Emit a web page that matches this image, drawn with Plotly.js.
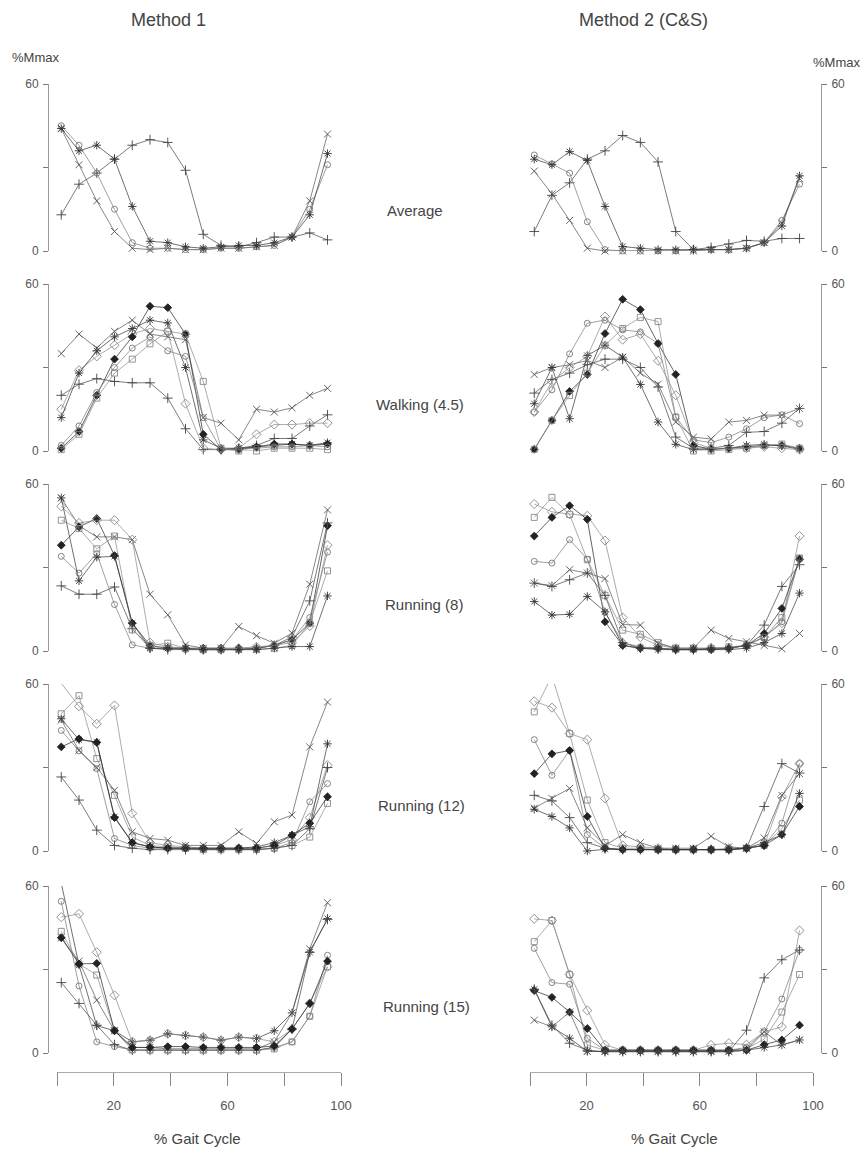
<!DOCTYPE html>
<html><head><meta charset="utf-8">
<script src="https://cdn.plot.ly/plotly-3.0.1.min.js"></script>
<style>html,body{margin:0;padding:0;background:#fff;}#chart{width:862px;height:1150px;}</style>
</head><body><div id="chart"></div>
<script>
// x positions (% gait cycle) of the 16 samples
const gait = [1.5, 7.75, 14, 20.25, 26.5, 32.75, 39, 45.25, 51.5, 57.75, 64, 70.25, 76.5, 82.75, 89, 95.25];
const yTickVals = [0, 30, 60];
const yTickText = ['0', '', '60'];
const xTickVals = [0, 20, 40, 60, 80, 100];
const xTickText = ['', '20', '', '60', '', '100'];
const rowLabels = ['Average', 'Walking (4.5)', 'Running (8)', 'Running (12)', 'Running (15)'];
const colTitles = ['Method 1', 'Method 2 (C&S)'];

// Average - Method 1
const avgL_plus = [13, 24, 28, 33, 38, 40, 39, 29, 6, 2, 1.5, 3, 5, 5, 6.5, 4];
const avgL_x    = [44, 31, 18, 7, 1, 0.5, 1, 0.5, 0.5, 1, 1, 1.5, 2, 5, 18, 42];
const avgL_circ = [45, 38, 28, 15, 3, 1, 1, 0.5, 0.5, 1, 1, 1.5, 2, 5, 15, 31];
const avgL_ast  = [44, 36, 38, 33, 16, 3.5, 3, 1.5, 1, 1.5, 2, 2, 3, 5, 13, 35];
// Average - Method 2
const avgR_plus = [7, 20, 24.5, 33, 36, 41.5, 39, 32, 7, 0.5, 1.3, 2.5, 3.8, 3.5, 4.5, 4.5];
const avgR_circ = [34.5, 31.3, 28, 10.5, 0.5, 0, 0, 0, 0, 0.5, 0.5, 0.5, 1, 3, 11, 24];
const avgR_ast  = [33, 31, 35.7, 32.5, 16, 1.6, 1, 0.5, 0.5, 0.5, 0.5, 0.5, 1, 3, 9, 27];
const avgR_x    = [28.7, 20.5, 11, 1, 0, 0, 0, 0, 0, 0, 0.5, 0.5, 1, 3, 10, 26];

// Walking (4.5) - Method 1
const wL_x    = [35, 42, 37, 43, 47, 42, 41, 40, 12, 10, 4, 15, 14, 15.5, 20, 22.5];
const wL_plus = [20, 24, 26, 25, 24.5, 24.5, 19, 8, 0.5, 0.5, 1, 2, 4.5, 4.5, 9, 13];
const wL_dia  = [15, 29, 34, 38, 42, 44, 43, 17, 1, 0.5, 1, 6, 9.5, 9.5, 10, 10];
const wL_ast  = [12, 28, 36, 41, 44, 47, 46, 30, 4, 1, 1, 1.5, 2, 2.5, 2, 3];
const wL_fill = [1, 7, 20, 33, 41, 52, 51.5, 42, 6, 0.5, 0.5, 1.5, 2.5, 2.5, 2, 2.5];
const wL_sq   = [0.5, 6, 19, 28, 33, 38.5, 43, 42, 25, 1, 0, 0, 1, 1, 1, 0.5];
const wL_circ = [2, 9, 21, 30, 37, 41, 36, 34, 12, 0.5, 0.5, 1, 1.5, 1.5, 2, 1.5];
// Walking (4.5) - Method 2
const wR_x    = [27.5, 30, 31, 32.5, 30, 33.7, 28, 24, 10.4, 5, 4.3, 10.4, 11, 12.9, 12.9, 15.3];
const wR_plus = [20.8, 25.7, 28, 31, 33, 33, 30, 23, 5, 1, 1, 2, 6.7, 7, 10, 15.3];
const wR_ast  = [17, 30, 11.6, 34.3, 38, 33.7, 23.9, 10.4, 2.4, 0.5, 0.6, 1, 2, 2.4, 1.8, 0.6];
const wR_circ = [14, 22, 34.9, 45.9, 47, 43.5, 42.8, 38.6, 12.2, 4, 3, 5, 8, 12, 13, 9.8];
const wR_fill = [0.6, 11, 21.4, 27.5, 42.2, 54.5, 50.8, 38.6, 27.5, 2, 0.6, 1, 1.5, 2, 2, 1];
const wR_sq   = [0.6, 11, 20, 28, 38, 44, 48, 46.5, 12.2, 0, 0, 0.5, 1, 2, 2.5, 1];
const wR_dia  = [14, 25, 30, 34, 48.3, 40, 42, 32.4, 20, 3, 1, 1, 1, 1.5, 1, 0.5];

// Running (8) - Method 1
const r8L_x    = [55, 45, 41, 41, 40, 20.4, 13, 2.2, 1, 1, 8.8, 5.5, 2.8, 6.4, 24, 50.7];
const r8L_fill = [38, 44.6, 47.6, 34.3, 10, 2, 1, 1, 1, 1, 1, 1, 2, 4, 10, 45];
const r8L_circ = [34, 28, 35, 16.7, 2.2, 1, 1, 0.5, 0.5, 0.5, 0.5, 1, 2, 4, 12, 35.5];
const r8L_plus = [23.4, 20.4, 20.4, 23, 8, 1, 0.5, 0.5, 0.5, 0.5, 0.5, 1, 2, 5, 18, 46];
const r8L_dia  = [52, 46, 47, 47, 40, 3, 1.5, 1, 0.5, 0.5, 1, 1.5, 2, 3, 9, 38];
const r8L_sq   = [47, 44, 36.7, 41.3, 7.6, 2, 2.8, 1, 0.5, 0.5, 0.5, 0.5, 1, 2, 10, 28.8];
const r8L_ast  = [55, 25.2, 33.7, 34, 10, 1, 1, 1, 0.5, 0.5, 0.5, 0.5, 1, 1.6, 1.6, 19.8];
// Running (8) - Method 2
const r8R_dia  = [52.8, 50, 49.2, 48.6, 39.7, 12, 5, 2, 1, 1, 1, 1, 2, 5, 10, 41.3];
const r8R_sq   = [48, 55.2, 49, 32.8, 20, 7.5, 6, 3, 1, 1, 1, 1.5, 2, 5, 12, 33.4];
const r8R_fill = [41.3, 48, 52.2, 47.3, 10.5, 2, 1, 1, 0.5, 0.5, 0.5, 1, 2, 6.3, 15.3, 33];
const r8R_circ = [32.2, 31.6, 40, 33, 14, 3, 1.5, 1, 0.5, 0.5, 0.5, 1, 2, 5, 10.5, 33.4];
const r8R_x    = [24.4, 23.5, 29.2, 28, 26, 9.5, 9.3, 2.7, 1, 1, 7.5, 4.5, 3.3, 2, 0.8, 6.3];
const r8R_plus = [24.4, 23.2, 25.6, 28, 20, 3, 1, 1, 0.5, 0.5, 1, 1, 2, 9.3, 23.2, 31];
const r8R_ast  = [17.8, 12.9, 13.2, 19.6, 14.1, 2, 1, 0.5, 0.5, 0.5, 0.5, 0.5, 1, 3, 6.3, 20.8];

// Running (12) - Method 1
const r12L_dia  = [60.3, 52, 45.7, 52.3, 13.5, 3, 2, 1.5, 1, 1, 1, 1, 2, 4, 12, 30.8];
const r12L_sq   = [49.3, 55.8, 33.2, 20, 5, 2, 1.5, 1, 0.5, 0.5, 0.5, 0.5, 1, 2, 5, 17.1];
const r12L_ast  = [47.5, 40, 39.1, 12.3, 3, 1.5, 1, 1, 1, 1, 1, 1.5, 3, 5.7, 8.7, 38.5];
const r12L_circ = [43.3, 36, 29.6, 4.5, 2, 1, 1, 1, 0.5, 0.5, 0.5, 0.5, 1, 3, 17.7, 24.2];
const r12L_fill = [37.4, 40.3, 39, 12, 3, 1.5, 1, 1, 1, 1, 1, 1, 2, 5.7, 10, 19.5];
const r12L_x    = [47, 36.2, 30, 21.8, 6.9, 4.5, 3.9, 2, 2, 2, 6.9, 2.7, 10.5, 12.9, 37.4, 53.5];
const r12L_plus = [26.6, 18.3, 7.5, 2, 1, 0.5, 0.5, 0.5, 0.5, 0.5, 0.5, 0.5, 1, 2, 8, 30];
// Running (12) - Method 2
const r12R_sq   = [50, 63, 42.2, 18.3, 3, 1, 1, 0.5, 0.5, 0.5, 0.5, 0.5, 1, 2, 8, 18.3];
const r12R_dia  = [53.8, 51.5, 42.2, 40, 18.9, 2, 1.5, 1, 0.5, 0.5, 0.5, 1, 1, 2, 19.5, 31.4];
const r12R_circ = [40, 27.2, 36.1, 5.9, 1, 0.5, 0.5, 0.5, 0.5, 0.5, 0.5, 0.5, 1, 2, 10, 31.4];
const r12R_fill = [27.8, 34.9, 36.1, 12.4, 1, 0.5, 0.5, 0.5, 0.5, 0.5, 0.5, 0.5, 1, 2, 5.9, 16];
const r12R_x    = [15.4, 18.9, 22.5, 8.3, 2, 5.9, 3, 1, 1, 1, 5.3, 1.5, 1, 4.7, 20, 27.8];
const r12R_plus = [20, 18, 12, 3, 1, 0.5, 0.5, 0.5, 0.5, 0.5, 0.5, 0.5, 1, 16, 31.4, 28];
const r12R_ast  = [15, 12.4, 8.3, 0, 0.6, 0.5, 0.5, 0.5, 0.5, 0.5, 0.5, 0.5, 1, 3, 5.9, 20.7];

// Running (15) - Method 1
const r15L_ast  = [61, 31.6, 9.8, 8, 4, 4.6, 6.9, 6.3, 5.7, 4.6, 5.7, 5.2, 8, 14.4, 36.2, 48.3];
const r15L_circ = [54.5, 24.1, 4, 2.3, 1.1, 1, 1, 1, 1, 1, 1, 1, 2, 4, 13.2, 35.1];
const r15L_dia  = [48.8, 50, 36.2, 20.7, 4, 4.6, 6.9, 6.3, 5.7, 4.6, 5.7, 5.2, 4, 8.6, 17.8, 31];
const r15L_x    = [41.4, 33, 19, 8, 2, 2, 1.5, 1.5, 1.5, 1.5, 1.5, 1.5, 4, 14.4, 37.4, 54];
const r15L_plus = [25.3, 17.8, 10, 3, 1, 1, 1, 1, 1, 1, 1, 1, 2, 8.6, 36.2, 48];
const r15L_sq   = [43.7, 32, 28, 8, 1.1, 1, 1, 1, 1, 1, 1, 1, 1.5, 4, 13.2, 31];
const r15L_fill = [41.4, 32, 32.2, 8, 2, 2, 2.3, 2.3, 2, 2, 2, 2, 2.5, 8.6, 17.8, 33];
// Running (15) - Method 2
const r15R_dia  = [48.2, 47.6, 28.2, 15.3, 2.9, 1, 1, 1, 1, 1, 2.9, 3.5, 3, 7.6, 9.4, 44];
const r15R_sq   = [40, 47.6, 28.2, 2.9, 1, 1, 1, 1, 1, 1, 1, 1, 1.5, 5, 14.7, 28.2];
const r15R_circ = [37.6, 25.3, 24.7, 5.3, 1, 1, 1, 1, 1, 1, 1, 1, 2, 7.6, 19.4, 37];
const r15R_fill = [22.4, 20, 14.7, 8.8, 1, 1, 1, 1, 1, 1, 1, 1, 1, 3, 4.7, 10];
const r15R_ast  = [22.9, 9.4, 5.3, 0.6, 0.5, 0.5, 0.5, 0.5, 0.5, 0.5, 0.5, 0.5, 1, 2, 2.9, 4.7];
const r15R_x    = [11.8, 9.4, 14.7, 0.6, 0.5, 0.5, 0.5, 0.5, 0.5, 0.5, 0.5, 0.5, 1, 7.6, 2.9, 4.7];
const r15R_plus = [22.9, 10, 3.5, 1, 0.5, 0.5, 0.5, 0.5, 0.5, 0.5, 0.5, 0.5, 8.2, 27, 33.5, 37];

const STY = {
  plus: {symbol: 'cross-thin-open', color: '#444', size: 7},
  x:    {symbol: 'x-thin-open', color: '#555', size: 7},
  circ: {symbol: 'circle-open', color: '#777', size: 6},
  sq:   {symbol: 'square-open', color: '#888', size: 6},
  dia:  {symbol: 'diamond-open', color: '#888', size: 7},
  ast:  {symbol: 'asterisk-open', color: '#333', size: 7},
  fill: {symbol: 'diamond', color: '#222', size: 6}
};

// panels: [column, row, list of [style, values]]
const panels = [
  [0, 0, [['plus', avgL_plus], ['x', avgL_x], ['circ', avgL_circ], ['ast', avgL_ast]]],
  [1, 0, [['plus', avgR_plus], ['circ', avgR_circ], ['ast', avgR_ast], ['x', avgR_x]]],
  [0, 1, [['x', wL_x], ['plus', wL_plus], ['dia', wL_dia], ['ast', wL_ast], ['fill', wL_fill], ['sq', wL_sq], ['circ', wL_circ]]],
  [1, 1, [['x', wR_x], ['plus', wR_plus], ['ast', wR_ast], ['circ', wR_circ], ['fill', wR_fill], ['sq', wR_sq], ['dia', wR_dia]]],
  [0, 2, [['x', r8L_x], ['fill', r8L_fill], ['circ', r8L_circ], ['plus', r8L_plus], ['dia', r8L_dia], ['sq', r8L_sq], ['ast', r8L_ast]]],
  [1, 2, [['dia', r8R_dia], ['sq', r8R_sq], ['fill', r8R_fill], ['circ', r8R_circ], ['x', r8R_x], ['plus', r8R_plus], ['ast', r8R_ast]]],
  [0, 3, [['dia', r12L_dia], ['sq', r12L_sq], ['ast', r12L_ast], ['circ', r12L_circ], ['fill', r12L_fill], ['x', r12L_x], ['plus', r12L_plus]]],
  [1, 3, [['sq', r12R_sq], ['dia', r12R_dia], ['circ', r12R_circ], ['fill', r12R_fill], ['x', r12R_x], ['plus', r12R_plus], ['ast', r12R_ast]]],
  [0, 4, [['ast', r15L_ast], ['circ', r15L_circ], ['dia', r15L_dia], ['x', r15L_x], ['plus', r15L_plus], ['sq', r15L_sq], ['fill', r15L_fill]]],
  [1, 4, [['dia', r15R_dia], ['sq', r15R_sq], ['circ', r15R_circ], ['fill', r15R_fill], ['ast', r15R_ast], ['x', r15R_x], ['plus', r15R_plus]]]
];

const W = 862, H = 1150;
const FONT = 'Liberation Sans, Arial, Helvetica, sans-serif';
const rowTop = [84, 284, 484, 684, 886];
const rowH = 167;
const colX = [[57, 341], [530, 813]];
const yAxPos = [48, 821];
const xAxisY = 1072;

const layout = {
  width: W, height: H,
  margin: {l: 0, r: 0, t: 0, b: 0},
  paper_bgcolor: '#fff', plot_bgcolor: 'rgba(0,0,0,0)',
  showlegend: false,
  font: {family: FONT, color: '#444'},
  annotations: []
};

const traces = [];
for (let c = 0; c < 2; c++) {
  const key = c === 0 ? 'xaxis' : 'xaxis2';
  layout[key] = {
    domain: [colX[c][0] / W, colX[c][1] / W], range: [0, 100],
    anchor: 'free', position: 1 - xAxisY / H,
    tickvals: xTickVals, ticktext: xTickText,
    ticks: 'outside', ticklen: 13, tickwidth: 1, tickcolor: '#888',
    showline: true, linecolor: '#aaa', linewidth: 1,
    showgrid: false, zeroline: false, ticklabelstandoff: 8,
    tickfont: {size: 13, color: '#555', family: FONT}
  };
}
panels.forEach((p, i) => {
  const [c, r, series] = p;
  const n = i + 1;
  const yKey = n === 1 ? 'yaxis' : 'yaxis' + n;
  const top = rowTop[r], bot = rowTop[r] + rowH;
  layout[yKey] = {
    domain: [1 - bot / H, 1 - top / H], range: [0, 60],
    anchor: 'free', position: yAxPos[c] / W, side: c === 0 ? 'left' : 'right',
    tickvals: yTickVals, ticktext: yTickText,
    ticks: 'outside', ticklen: 5, tickwidth: 1, tickcolor: '#777',
    showline: true, linecolor: '#999', linewidth: 1,
    showgrid: false, zeroline: false, ticklabelstandoff: 2,
    tickfont: {size: 12, color: '#555', family: FONT}
  };
  series.forEach(([s, vals]) => {
    const st = STY[s];
    traces.push({
      type: 'scatter', mode: 'lines+markers',
      x: gait, y: vals,
      xaxis: c === 0 ? 'x' : 'x2', yaxis: n === 1 ? 'y' : 'y' + n,
      cliponaxis: false,
      line: {color: st.color, width: 0.7},
      marker: {symbol: st.symbol, size: st.size, color: st.color, line: {color: st.color, width: 0.9}},
      hoverinfo: 'skip'
    });
  });
});

function ann(text, x, y, size) {
  layout.annotations.push({
    text: text, x: x / W, y: 1 - y / H, xref: 'paper', yref: 'paper',
    showarrow: false, xanchor: 'center', yanchor: 'middle',
    font: {family: FONT, size: size, color: '#444'}
  });
}
ann(colTitles[0], 168, 20, 18);
ann(colTitles[1], 643, 20, 18);
ann('%Mmax', 35, 57, 13);
ann('%Mmax', 836, 62, 13);
const rowLabY = [210, 405, 604, 805, 1006];
const rowLabX = [415, 420, 424, 421, 426];
rowLabels.forEach((t, i) => ann(t, rowLabX[i], rowLabY[i], 15));
ann('% Gait Cycle', 197, 1138, 15);
ann('% Gait Cycle', 674, 1138, 15);

Plotly.newPlot('chart', traces, layout, {staticPlot: true, displayModeBar: false});
</script></body></html>
